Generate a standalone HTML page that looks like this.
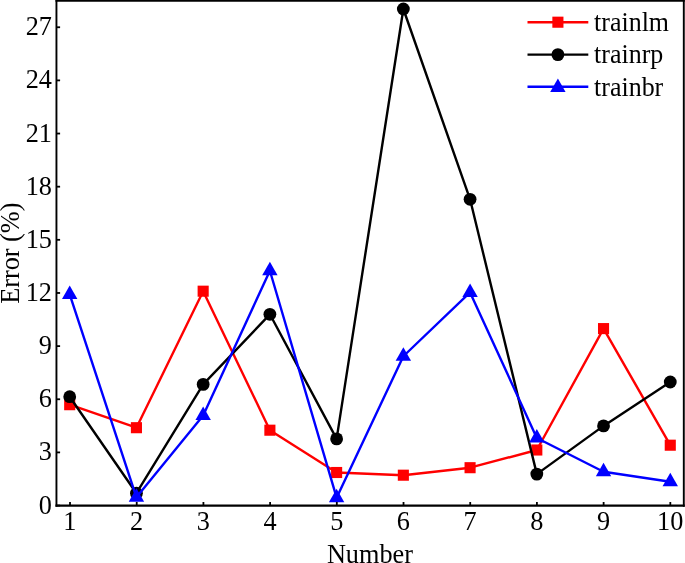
<!DOCTYPE html>
<html lang="en">
<head>
<meta charset="utf-8">
<title>Error vs Number</title>
<style>
html,body{margin:0;padding:0;background:#fff;}
body{width:685px;height:563px;overflow:hidden;}
svg{display:block;will-change:transform;}
text{font-family:"Liberation Serif","Times New Roman",serif;fill:#000;}
.tk{font-size:27px;}
.lg{font-size:26.6px;}
</style>
</head>
<body>
<svg width="685" height="563" viewBox="0 0 685 563">
<rect x="0" y="0" width="685" height="563" fill="#fff"/>
<g fill="none" stroke-width="2.4" stroke-linejoin="round">
<polyline stroke="#f00" points="69.70,404.70 136.43,427.70 203.16,291.20 269.89,430.20 336.62,472.50 403.35,475.20 470.08,467.70 536.81,450.00 603.54,328.60 670.27,445.20"/>
</g>
<g fill="#f00"><rect x="64.15" y="399.15" width="11.1" height="11.1"/><rect x="130.88" y="422.15" width="11.1" height="11.1"/><rect x="197.61" y="285.65" width="11.1" height="11.1"/><rect x="264.34" y="424.65" width="11.1" height="11.1"/><rect x="331.07" y="466.95" width="11.1" height="11.1"/><rect x="397.80" y="469.65" width="11.1" height="11.1"/><rect x="464.53" y="462.15" width="11.1" height="11.1"/><rect x="531.26" y="444.45" width="11.1" height="11.1"/><rect x="597.99" y="323.05" width="11.1" height="11.1"/><rect x="664.72" y="439.65" width="11.1" height="11.1"/></g>
<polyline fill="none" stroke="#000" stroke-width="2.4" stroke-linejoin="round" points="69.70,396.70 136.43,493.20 203.16,384.40 269.89,314.30 336.62,438.90 403.35,9.00 470.08,199.30 536.81,474.10 603.54,425.90 670.27,382.00"/>
<g fill="#000"><circle cx="69.70" cy="396.70" r="6.4"/><circle cx="136.43" cy="493.20" r="6.4"/><circle cx="203.16" cy="384.40" r="6.4"/><circle cx="269.89" cy="314.30" r="6.4"/><circle cx="336.62" cy="438.90" r="6.4"/><circle cx="403.35" cy="9.00" r="6.4"/><circle cx="470.08" cy="199.30" r="6.4"/><circle cx="536.81" cy="474.10" r="6.4"/><circle cx="603.54" cy="425.90" r="6.4"/><circle cx="670.27" cy="382.00" r="6.4"/></g>
<polyline fill="none" stroke="#00f" stroke-width="2.4" stroke-linejoin="round" points="69.70,294.40 136.43,497.25 203.16,415.55 269.89,270.75 336.62,497.65 403.35,356.25 470.08,292.45 536.81,437.95 603.54,471.75 670.27,481.75"/>
<g fill="#00f"><polygon points="69.70,285.40 77.40,298.90 62.00,298.90"/><polygon points="136.43,488.25 144.13,501.75 128.73,501.75"/><polygon points="203.16,406.55 210.86,420.05 195.46,420.05"/><polygon points="269.89,261.75 277.59,275.25 262.19,275.25"/><polygon points="336.62,488.65 344.32,502.15 328.92,502.15"/><polygon points="403.35,347.25 411.05,360.75 395.65,360.75"/><polygon points="470.08,283.45 477.78,296.95 462.38,296.95"/><polygon points="536.81,428.95 544.51,442.45 529.11,442.45"/><polygon points="603.54,462.75 611.24,476.25 595.84,476.25"/><polygon points="670.27,472.75 677.97,486.25 662.57,486.25"/></g>
<g stroke="#000" fill="none" stroke-linecap="butt">
<line x1="56.45" y1="-0.625" x2="56.45" y2="506.675" stroke-width="1.9"/><line x1="683.8" y1="-0.625" x2="683.8" y2="506.675" stroke-width="1.9"/><line x1="55.5" y1="0.5" x2="684.75" y2="0.5" stroke-width="2.25"/><line x1="55.5" y1="505.55" x2="684.75" y2="505.55" stroke-width="2.25"/>
<line x1="70.02" y1="505.55" x2="70.02" y2="502.0" stroke-width="1.8"/><line x1="136.72" y1="505.55" x2="136.72" y2="502.0" stroke-width="1.8"/><line x1="203.42" y1="505.55" x2="203.42" y2="502.0" stroke-width="1.8"/><line x1="270.12" y1="505.55" x2="270.12" y2="502.0" stroke-width="1.8"/><line x1="336.82" y1="505.55" x2="336.82" y2="502.0" stroke-width="1.8"/><line x1="403.52" y1="505.55" x2="403.52" y2="502.0" stroke-width="1.8"/><line x1="470.22" y1="505.55" x2="470.22" y2="502.0" stroke-width="1.8"/><line x1="536.92" y1="505.55" x2="536.92" y2="502.0" stroke-width="1.8"/><line x1="603.62" y1="505.55" x2="603.62" y2="502.0" stroke-width="1.8"/><line x1="670.32" y1="505.55" x2="670.32" y2="502.0" stroke-width="1.8"/>
<line x1="56.45" y1="505.55" x2="60.1" y2="505.55" stroke-width="1.8"/><line x1="56.45" y1="452.41" x2="60.1" y2="452.41" stroke-width="1.8"/><line x1="56.45" y1="399.26" x2="60.1" y2="399.26" stroke-width="1.8"/><line x1="56.45" y1="346.12" x2="60.1" y2="346.12" stroke-width="1.8"/><line x1="56.45" y1="292.97" x2="60.1" y2="292.97" stroke-width="1.8"/><line x1="56.45" y1="239.82" x2="60.1" y2="239.82" stroke-width="1.8"/><line x1="56.45" y1="186.68" x2="60.1" y2="186.68" stroke-width="1.8"/><line x1="56.45" y1="133.54" x2="60.1" y2="133.54" stroke-width="1.8"/><line x1="56.45" y1="80.39" x2="60.1" y2="80.39" stroke-width="1.8"/><line x1="56.45" y1="27.25" x2="60.1" y2="27.25" stroke-width="1.8"/>
</g>
<text class="tk" text-anchor="middle" transform="translate(69.92,529.60) scale(0.973,1)">1</text><text class="tk" text-anchor="middle" transform="translate(136.62,529.60) scale(0.973,1)">2</text><text class="tk" text-anchor="middle" transform="translate(203.32,529.60) scale(0.973,1)">3</text><text class="tk" text-anchor="middle" transform="translate(270.02,529.60) scale(0.973,1)">4</text><text class="tk" text-anchor="middle" transform="translate(336.72,529.60) scale(0.973,1)">5</text><text class="tk" text-anchor="middle" transform="translate(403.42,529.60) scale(0.973,1)">6</text><text class="tk" text-anchor="middle" transform="translate(470.12,529.60) scale(0.973,1)">7</text><text class="tk" text-anchor="middle" transform="translate(536.82,529.60) scale(0.973,1)">8</text><text class="tk" text-anchor="middle" transform="translate(603.52,529.60) scale(0.973,1)">9</text><text class="tk" text-anchor="middle" transform="translate(670.22,529.60) scale(0.973,1)">10</text>
<text class="tk" text-anchor="end" transform="translate(52.00,513.55) scale(0.973,1)">0</text><text class="tk" text-anchor="end" transform="translate(52.00,460.41) scale(0.973,1)">3</text><text class="tk" text-anchor="end" transform="translate(52.00,407.26) scale(0.973,1)">6</text><text class="tk" text-anchor="end" transform="translate(52.00,354.12) scale(0.973,1)">9</text><text class="tk" text-anchor="end" transform="translate(52.00,300.97) scale(0.973,1)">12</text><text class="tk" text-anchor="end" transform="translate(52.00,247.82) scale(0.973,1)">15</text><text class="tk" text-anchor="end" transform="translate(52.00,194.68) scale(0.973,1)">18</text><text class="tk" text-anchor="end" transform="translate(52.00,141.54) scale(0.973,1)">21</text><text class="tk" text-anchor="end" transform="translate(52.00,88.39) scale(0.973,1)">24</text><text class="tk" text-anchor="end" transform="translate(52.00,35.25) scale(0.973,1)">27</text>
<text class="tk" text-anchor="middle" transform="translate(369.90,562.70) scale(0.973,1)">Number</text>
<text class="tk" text-anchor="middle" transform="translate(19.10,253.20) rotate(-90) scale(0.973,1)">Error (%)</text>
<line x1="527.5" y1="22.2" x2="588.3" y2="22.2" stroke="#f00" stroke-width="2.4"/><line x1="527.5" y1="54.6" x2="588.3" y2="54.6" stroke="#000" stroke-width="2.4"/><line x1="527.5" y1="86.8" x2="588.3" y2="86.8" stroke="#00f" stroke-width="2.4"/>
<g fill="#f00"><rect x="552.35" y="16.65" width="11.1" height="11.1"/></g><g fill="#000"><circle cx="557.90" cy="54.60" r="6.4"/></g><g fill="#00f"><polygon points="557.90,78.45 565.60,91.95 550.20,91.95"/></g>
<text class="lg" text-anchor="start" transform="translate(594.10,30.90) scale(0.976,1)">trainlm</text><text class="lg" text-anchor="start" transform="translate(594.10,63.30) scale(0.976,1)">trainrp</text><text class="lg" text-anchor="start" transform="translate(594.10,95.50) scale(0.976,1)">trainbr</text>
</svg>
</body>
</html>
